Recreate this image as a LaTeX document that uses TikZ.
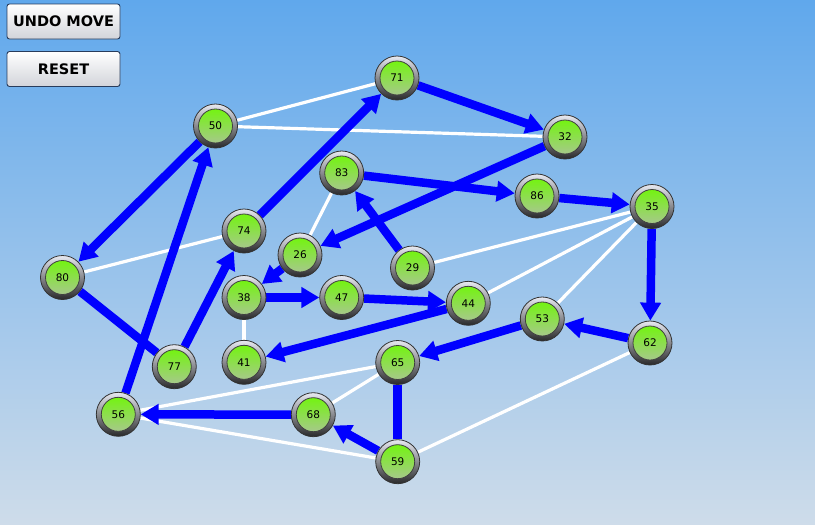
\documentclass[tikz,border=0pt]{standalone}
\usepackage{fontspec}
\setmainfont{DejaVu Sans}
\usetikzlibrary{arrows.meta,backgrounds}

\definecolor{skytop}{RGB}{96,168,236}
\definecolor{skymid}{RGB}{150,196,234}
\definecolor{skybot}{RGB}{206,220,234}
\definecolor{ringlight}{RGB}{232,234,242}
\definecolor{ringmid}{RGB}{150,152,158}
\definecolor{ringdark}{RGB}{40,40,42}
\definecolor{leaftop}{RGB}{108,250,0}
\definecolor{leafmid}{RGB}{114,242,6}
\definecolor{leafbot}{RGB}{174,194,156}
\definecolor{edgeblue}{RGB}{0,0,255}
\definecolor{btnborder}{RGB}{40,60,92}
\definecolor{btnbot}{RGB}{210,212,218}

\tikzset{
  vertex/.style={circle, minimum size=44pt, inner sep=0pt,
    top color=ringlight, middle color=ringmid, bottom color=ringdark,
    draw=black!80, line width=0.8pt,
    font=\fontsize{10.5}{12}\selectfont, text=black,
    path picture={
      \shade[top color=leaftop, middle color=leafmid, bottom color=leafbot]
        (path picture bounding box.center) circle (17pt);
      \draw[black!75, line width=0.8pt]
        (path picture bounding box.center) circle (17pt);
    }},
  arc/.style={draw=edgeblue, line width=8.5pt,
    -{Triangle[length=18pt,width=20pt]}},
  link/.style={draw=edgeblue, line width=8.5pt},
  thin link/.style={draw=white, line width=3.2pt},
  button/.style={rectangle, rounded corners=2.5pt, minimum width=113pt,
    minimum height=35pt, inner sep=0pt, top color=white, bottom color=btnbot,
    draw=btnborder, line width=0.9pt,
    font=\bfseries\fontsize{14.5}{18}\selectfont, text=black}
}

\begin{document}
\begin{tikzpicture}[x=1pt,y=-1pt]
\useasboundingbox (0,0) rectangle (815,525);

% buttons
\node[button] (undo)  at (63.5,21.5) {UNDO MOVE};
\node[button] (reset) at (63.5,69)   {RESET};

% vertices
\node[vertex] (n71) at (397,78)    {71};
\node[vertex] (n50) at (215.5,126) {50};
\node[vertex] (n32) at (565,137)   {32};
\node[vertex] (n83) at (341.7,173) {83};
\node[vertex] (n86) at (537,196)   {86};
\node[vertex] (n35) at (652,206.5) {35};
\node[vertex] (n74) at (244,231)   {74};
\node[vertex] (n26) at (300,255)   {26};
\node[vertex] (n29) at (412.5,268) {29};
\node[vertex] (n80) at (62.5,277.5){80};
\node[vertex] (n38) at (244,297.5) {38};
\node[vertex] (n47) at (341.7,297.5){47};
\node[vertex] (n44) at (468.3,303.3){44};
\node[vertex] (n53) at (542.3,319) {53};
\node[vertex] (n62) at (650,343)   {62};
\node[vertex] (n65) at (397.7,362.5){65};
\node[vertex] (n41) at (244,362.3) {41};
\node[vertex] (n77) at (174.3,366.7){77};
\node[vertex] (n56) at (118.3,414.3){56};
\node[vertex] (n68) at (313.3,414.7){68};
\node[vertex] (n59) at (397.7,461.7){59};

\begin{scope}[on background layer]
  % sky
  \shade[top color=skytop, middle color=skymid, bottom color=skybot]
    (0,0) rectangle (815,525);

  % undirected white links
  \draw[thin link] (n50) -- (n71);
  \draw[thin link] (n50) -- (n32);
  \draw[thin link] (n80) -- (n74);
  \draw[thin link] (n83) -- (n26);
  \draw[thin link] (n29) -- (n35);
  \draw[thin link] (n44) -- (n35);
  \draw[thin link] (n53) -- (n35);
  \draw[thin link] (n38) -- (n41);
  \draw[thin link] (n65) -- (n56);
  \draw[thin link] (n65) -- (n68);
  \draw[thin link] (n56) -- (n59);
  \draw[thin link] (n59) -- (n62);

  % blue moves
  \draw[arc] (n71) -- (n32);
  \draw[arc] (n74) -- (n71);
  \draw[arc] (n50) -- (n80);
  \draw[arc] (n56) -- (n50);
  \draw[arc] (n77) -- (n74);
  \draw[link] (n80) -- (n77);
  \draw[arc] (n32) -- (n26);
  \draw[arc] (n83) -- (n86);
  \draw[arc] (n86) -- (n35);
  \draw[arc] (n29) -- (n83);
  \draw[arc] (n26) -- (n38);
  \draw[arc] (n38) -- (n47);
  \draw[arc] (n47) -- (n44);
  \draw[arc] (n44) -- (n41);
  \draw[arc] (n35) -- (n62);
  \draw[arc] (n62) -- (n53);
  \draw[arc] (n53) -- (n65);
  \draw[link] (n65) -- (n59);
  \draw[arc] (n59) -- (n68);
  \draw[arc] (n68) -- (n56);
\end{scope}
\end{tikzpicture}
\end{document}
